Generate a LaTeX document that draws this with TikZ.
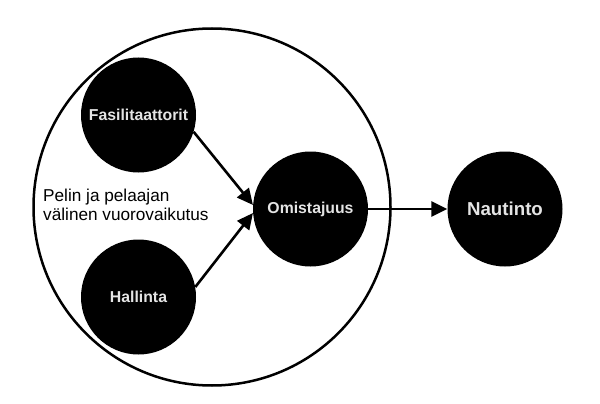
\documentclass[tikz,border=0pt]{standalone}
\usepackage{fontspec}
\setmainfont{Liberation Sans}
\usetikzlibrary{arrows.meta}
\definecolor{labelgray}{HTML}{E4E4E4}
\begin{document}
\begin{tikzpicture}[x=1pt,y=-1pt,
  blackdot/.style={circle,fill=black,draw=none,minimum size=115pt,inner sep=0pt,
    text=labelgray,font=\bfseries\fontsize{15.8}{18}\selectfont},
  outer/.style={circle,draw=black,line width=2.5pt,minimum size=357pt,inner sep=0pt},
  conn/.style={line width=2.6pt,-{Triangle[length=16pt,width=15pt]}}]
\useasboundingbox[fill=white] (0,0) rectangle (600,404);
\node[outer] (big) at (212,207) {};
\node[blackdot] (fas) at (138.5,115) {Fasilitaattorit};
\node[blackdot] (hal) at (138.5,297) {Hallinta};
\node[blackdot] (om) at (310.5,209) {Omistajuus};
\node[blackdot,font=\bfseries\fontsize{18.7}{22}\selectfont] (nau) at (505,209) {Nautinto};
\node[anchor=north west,align=left,inner sep=0pt,font=\fontsize{17.2}{19}\selectfont] (lab) at (43,188.5)
  {Pelin ja pelaajan\\välinen vuorovaikutus};
\draw[conn] (fas.-17) -- (om.176);
\draw[conn] (hal.10) -- (om.184);
\draw[conn] (om.east) -- (nau.west);
\end{tikzpicture}
\end{document}
